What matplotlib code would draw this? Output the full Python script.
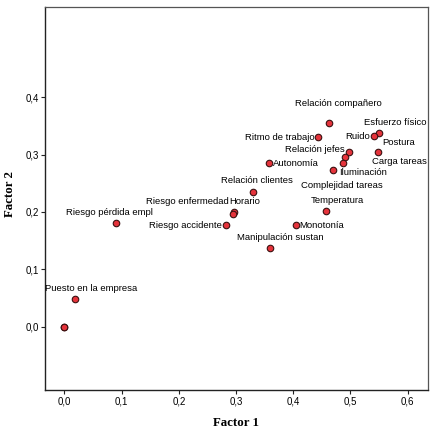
import matplotlib
matplotlib.use("Agg")
import matplotlib.pyplot as plt

# ---- data ----
labels = ["Relación compañero", "Esfuerzo físico", "Ruido", "Ritmo de trabajo",
          "Postura", "Relación jefes", "Carga tareas", "Complejidad tareas",
          "Iluminación", "Autonomía", "Relación clientes", "Horario",
          "Riesgo enfermedad", "Riesgo accidente", "Monotonía", "Temperatura",
          "Manipulación sustan", "Riesgo pérdida empl", "Puesto en la empresa",
          "", ""]
factor1 = [0.462, 0.550, 0.541, 0.444, 0.548, 0.497, 0.491, 0.487, 0.470, 0.357,
           0.329, 0.296, 0.294, 0.282, 0.404, 0.458, 0.359, 0.090, 0.019, 0.0, 0.0]
factor2 = [0.355, 0.337, 0.333, 0.331, 0.304, 0.304, 0.295, 0.285, 0.274, 0.285,
           0.235, 0.200, 0.196, 0.177, 0.177, 0.2015, 0.137, 0.181, 0.049, 0.0, 0.0]
x_ticks = [0.0, 0.1, 0.2, 0.3, 0.4, 0.5, 0.6]
y_ticks = [0.0, 0.1, 0.2, 0.3, 0.4]

# label offsets in pixels (dx right, dy down)
label_offsets = [(10, -19.4), (16, -10.7), (-16, 0.7), (-38.6, 0.3), (20.8, -9.7),
                 (-34, -3), (53.9, 4), (-1.1, 22.7), (29.5, 3.4), (27.2, 0),
                 (4.3, -11.7), (10.5, -10), (-45.4, -12.6), (-40.5, 0.3), (26, 0.7),
                 (11.1, -10.7), (10, -10.3), (-6, -10), (15.9, -10.6), (0, 0), (0, 0)]

W, H = 436, 433
fig = plt.figure(figsize=(W/100, H/100), dpi=100)
ax = fig.add_axes([45/W, 1-390/H, (428-45)/W, (390-7)/H])

ax.scatter(factor1, factor2, s=22, c="#e5333b", edgecolors="#3a1010",
           linewidths=0.8, zorder=3, clip_on=False)

for lab, x, y, (dx, dy) in zip(labels, factor1, factor2, label_offsets):
    if lab:
        ax.annotate(lab, (x, y), xytext=(dx, -dy), textcoords="offset pixels",
                    ha="center", va="center", fontsize=6.8,
                    family="Liberation Sans", color="black", annotation_clip=False)

ax.set_xlim(-0.034, 0.6355)
ax.set_ylim(-0.110, 0.557)
ax.set_xticks(x_ticks)
ax.set_yticks(y_ticks)
ax.set_xticklabels([f"{v:.1f}".replace(".", ",") for v in x_ticks],
                   family="Liberation Sans", fontsize=7)
ax.set_yticklabels([f"{v:.1f}".replace(".", ",") for v in y_ticks],
                   family="Liberation Sans", fontsize=7)
ax.tick_params(direction="out", length=3, width=0.8, pad=1.5, color="#222222")

for side in ["left", "bottom"]:
    ax.spines[side].set_color("#222222")
    ax.spines[side].set_linewidth(1.0)
for side in ["top", "right"]:
    ax.spines[side].set_color("#555555")
    ax.spines[side].set_linewidth(0.9)

fig.text(236/W, 1-423/H, "Factor 1", family="Liberation Serif", fontweight="bold",
         fontsize=9.3, ha="center", va="center")
fig.text(10/W, 1-194/H, "Factor 2", family="Liberation Serif", fontweight="bold",
         fontsize=9.3, ha="center", va="center", rotation=90)

fig.savefig("out.png", dpi=100)
